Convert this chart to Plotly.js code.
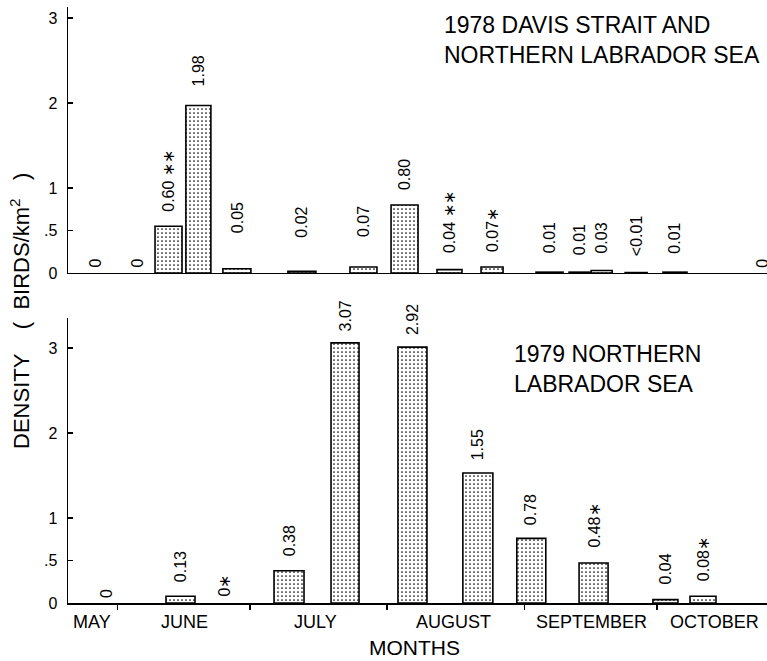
<!DOCTYPE html>
<html><head><meta charset="utf-8">
<script src="https://cdn.plot.ly/plotly-3.0.1.min.js"></script>
<style>html,body{margin:0;padding:0;background:#fff}#chart{width:767px;height:661px}</style>
</head><body><div id="chart"></div>
<script>
// ---------- DATA ----------
// 1978 Davis Strait and northern Labrador Sea (survey dates, bar heights as drawn, printed labels)
const dates1978 = ['1978-05-26 22:00','1978-06-05 10:00','1978-06-12 13:00','1978-06-19 07:00','1978-06-28 00:00','1978-07-12 17:00','1978-07-26 15:00','1978-08-04 22:00','1978-08-15 02:00','1978-08-24 17:00','1978-09-06 17:00','1978-09-13 12:00','1978-09-18 12:00','1978-09-26 07:00','1978-10-05 02:00','1978-10-24 19:00'];
const density1978 = [0, 0, 0.55, 1.97, 0.05, 0.02, 0.07, 0.80, 0.04, 0.07, 0.01, 0.01, 0.03, 0.005, 0.01, 0];
const labels1978 = ['0','0','0.60 ∗∗','1.98','0.05','0.02','0.07','0.80','0.04 ∗∗','0.07∗','0.01','0.01','0.03','<0.01','0.01','0'];

// 1979 northern Labrador Sea
const dates1979 = ['1979-05-29 12:00','1979-06-15 06:00','1979-06-25 00:00','1979-07-09 19:00','1979-07-22 11:00','1979-08-06 17:00','1979-08-21 12:00','1979-09-02 14:00','1979-09-16 16:00','1979-10-02 22:00','1979-10-11 10:00'];
const density1979 = [0, 0.08, 0, 0.38, 3.06, 3.01, 1.53, 0.76, 0.47, 0.04, 0.08];
const labels1979 = ['0','0.13','0∗','0.38','3.07','2.92','1.55','0.78','0.48∗','0.04','0.08∗'];

// axis labels
const monthNames = ['MAY','JUNE','JULY','AUGUST','SEPTEMBER','OCTOBER'];
const monthLabelDates = ['1979-05-26 06:00','1979-06-16 06:00','1979-07-15 16:00','1979-08-16 02:00','1979-09-16 07:00','1979-10-14 02:00'];
const monthBoundaries = ['1979-06-01','1979-07-01','1979-08-01','1979-09-01','1979-10-01'];
const yTickVals = [0, 0.5, 1, 2, 3];
const yTickText = ['0', '.5', '1', '2', '3'];

// ---------- STYLE / LAYOUT ----------
const FONT = 'Liberation Sans, Arial, Helvetica, sans-serif';
const range1978 = ['1978-05-20 19:19', '1978-10-25 21:22'];
const range1979 = ['1979-05-20 19:19', '1979-10-25 21:22'];
const plotWidthPx = 699;
const toMs = s => Date.parse(s.replace(' ', 'T') + 'Z');
const msPerPx = (toMs(range1978[1]) - toMs(range1978[0])) / plotWidthPx;
const barWidthPx1978 = [27,27,27,25,28,28,27,27,25,22,27,21,21,22,24,27];
const barWidthPx1979 = [29,29,29,30,28,29,30,29,29,25,26];
const labelGap1978 = [5,5,14,19,36,34,30,15,17,15,19,17,17,16,18,5];
const labelGap1979 = [5,14,6,14,11,12,13,13,15,15,15];

const barMarker = {
  color: 'white',
  line: {color: 'black', width: 1.6},
  pattern: {shape: '.', fgcolor: 'black', bgcolor: 'white', size: 4, solidity: 0.14}
};
// zero-density surveys carry only a label, no drawn bar
const barHeights = arr => arr.map(v => (v === 0 ? null : v));

const traces = [
  {type: 'bar', x: dates1978, y: barHeights(density1978), width: barWidthPx1978.map(w => w * msPerPx),
   xaxis: 'x', yaxis: 'y', marker: barMarker, hoverinfo: 'skip'},
  {type: 'bar', x: dates1979, y: barHeights(density1979), width: barWidthPx1979.map(w => w * msPerPx),
   xaxis: 'x2', yaxis: 'y2', marker: barMarker, hoverinfo: 'skip'}
];

const annotations = [];
function addLabels(dates, vals, labels, gaps, xr, yr) {
  dates.forEach((d, i) => {
    annotations.push({x: d, y: vals[i], xref: xr, yref: yr, text: labels[i], textangle: -90,
      showarrow: false, xanchor: 'center', yanchor: 'bottom', yshift: gaps[i] - 2,
      font: {family: FONT, size: 16, color: 'black'}});
  });
}
addLabels(dates1978, density1978, labels1978, labelGap1978, 'x', 'y');
addLabels(dates1979, density1979, labels1979, labelGap1979, 'x2', 'y2');

monthNames.forEach((m, i) => {
  annotations.push({x: monthLabelDates[i], y: -0.032, xref: 'x2', yref: 'paper', text: m,
    showarrow: false, xanchor: 'center', yanchor: 'middle', font: {family: FONT, size: 18, color: 'black'}});
});

annotations.push({x: 0.495, y: -0.0755, xref: 'paper', yref: 'paper', text: 'MONTHS', showarrow: false,
  xanchor: 'center', yanchor: 'middle', font: {family: FONT, size: 21, color: 'black'}});
annotations.push({x: -0.0687, y: 0.49, xref: 'paper', yref: 'paper', textangle: -90,
  text: 'DENSITY\u00a0\u00a0\u00a0\u00a0(\u00a0\u00a0BIRDS/km<sup>2</sup>\u00a0\u00a0\u00a0)', showarrow: false,
  xanchor: 'center', yanchor: 'middle', font: {family: FONT, size: 22, color: 'black'}});
annotations.push({x: 0.535, y: 0.995, xref: 'paper', yref: 'paper', align: 'left',
  text: '1978 DAVIS STRAIT AND<br>NORTHERN LABRADOR SEA', showarrow: false,
  xanchor: 'left', yanchor: 'top', font: {family: FONT, size: 23, color: 'black'}});
annotations.push({x: 0.635, y: 0.443, xref: 'paper', yref: 'paper', align: 'left',
  text: '1979 NORTHERN<br>LABRADOR SEA', showarrow: false,
  xanchor: 'left', yanchor: 'top', font: {family: FONT, size: 23, color: 'black'}});

const yCommon = {
  tickvals: yTickVals, ticktext: yTickText, ticks: 'inside', ticklen: 5, tickwidth: 1.5, tickcolor: 'black',
  showline: true, linewidth: 1.5, linecolor: 'black', showgrid: false, zeroline: false,
  ticklabelstandoff: 6, tickfont: {family: FONT, size: 16, color: 'black'}, fixedrange: true
};

const layout = {
  width: 767, height: 661,
  margin: {l: 68, r: 0, t: 7, b: 58},
  paper_bgcolor: 'white', plot_bgcolor: 'white',
  showlegend: false, bargap: 0,
  font: {family: FONT, color: 'black'},
  xaxis: {type: 'date', range: range1978, anchor: 'y', domain: [0, 1], showline: true, linewidth: 1.5,
    linecolor: 'black', ticks: '', showticklabels: false, showgrid: false, zeroline: false},
  yaxis: Object.assign({domain: [0.5537, 1], range: [0, 3.129], anchor: 'x'}, yCommon),
  xaxis2: {type: 'date', range: range1979, anchor: 'y2', domain: [0, 1], showline: true, linewidth: 1.5,
    linecolor: 'black', ticks: 'outside', tickvals: monthBoundaries, ticklen: 5, tickwidth: 1.5,
    tickcolor: 'black', showticklabels: false, showgrid: false, zeroline: false},
  yaxis2: Object.assign({domain: [0, 0.4782], range: [0, 3.353], anchor: 'x2'}, yCommon),
  annotations: annotations
};

Plotly.newPlot('chart', traces, layout, {staticPlot: true, displayModeBar: false});
</script>
</body></html>
